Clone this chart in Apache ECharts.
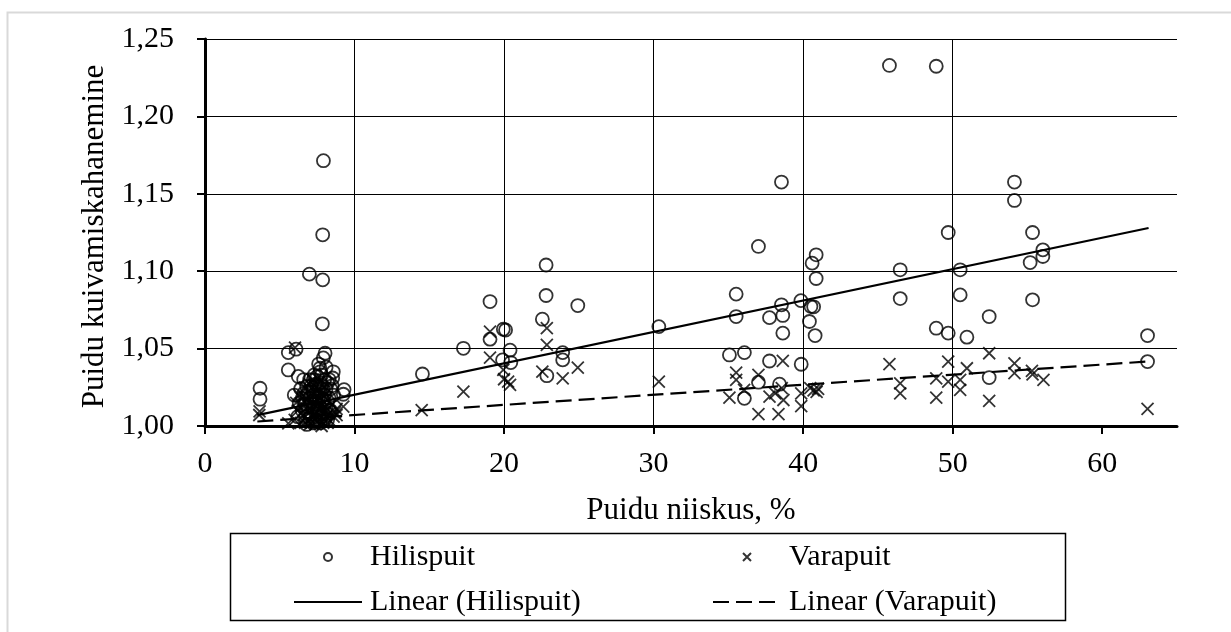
<!DOCTYPE html>
<html>
<head>
<meta charset="utf-8">
<script src="https://cdn.jsdelivr.net/npm/echarts@6/dist/echarts.min.js"></script>
<style>
html,body{margin:0;padding:0;background:#fff;}
#chart{width:1231px;height:632px;}
</style>
</head>
<body>
<div id="chart"></div>
<script>
// ---- Data (x = Puidu niiskus %, y = Puidu kuivamiskahanemine) ----
const hilispuit = [
  [3.68,1.0244],[3.68,1.0173],
  [5.57,1.0474],[6.09,1.0496],[5.57,1.0362],[6.24,1.032],[5.97,1.020],[6.6,1.021],[6.8,1.0254],
  [6.98,1.0981],[7.87,1.0944],[7.87,1.1235],[7.92,1.1714],[7.85,1.066],
  [8.03,1.047],[7.91,1.044],[8.58,1.035],[8.54,1.031],[7.69,1.0373],[7.8,1.033],[7.24,1.0298],
  [9.3,1.0235],[9.25,1.0205],
  [6.3,1.015],[6.5,1.010],[6.7,1.006],[6.9,1.012],[7.0,1.018],[7.1,1.008],[7.2,1.022],[7.3,1.014],
  [7.4,1.004],[7.5,1.026],[7.5,1.010],[7.6,1.019],[7.7,1.002],[7.7,1.028],[7.8,1.015],[7.9,1.008],
  [7.9,1.024],[8.0,1.020],[8.1,1.012],[8.2,1.028],[8.3,1.018],[8.4,1.024],[8.4,1.010],[8.6,1.020],
  [6.2,1.006],[6.4,1.024],[6.6,1.030],[7.0,1.030],[7.3,1.033],[7.6,1.040],[7.4,1.027],[8.1,1.038],
  [7.2,1.002],[6.8,1.001],[8.2,1.004],
  [6.5,1.018],[6.7,1.014],[6.9,1.022],[7.0,1.005],[7.1,1.026],[7.2,1.012],[7.3,1.020],[7.4,1.016],
  [7.5,1.003],[7.5,1.032],[7.6,1.011],[7.7,1.022],[7.7,1.035],[7.8,1.006],[7.8,1.026],[7.9,1.017],
  [8.0,1.030],[8.0,1.004],[8.1,1.024],[8.2,1.016],[8.3,1.010],[8.3,1.030],[8.5,1.026],[7.1,1.016],
  [14.54,1.0336],[17.28,1.0502],[19.06,1.0804],[19.06,1.0561],[19.95,1.0625],[20.1,1.062],[20.4,1.049],
  [19.9,1.0427],[20.45,1.041],[22.81,1.104],[22.81,1.0843],[22.56,1.069],[24.93,1.0778],[23.92,1.0474],
  [23.92,1.0427],[22.86,1.0325],[30.35,1.0642],
  [45.77,1.2329],[48.9,1.2324],[38.55,1.1576],[37.01,1.116],[49.7,1.125],[40.87,1.1106],[40.6,1.1052],
  [40.87,1.0953],[46.49,1.1009],[46.49,1.0823],[35.52,1.0852],[35.52,1.0707],[37.75,1.070],[38.55,1.0783],
  [38.64,1.0714],[38.64,1.06],[39.85,1.081],[40.52,1.0772],[40.7,1.077],[40.42,1.0675],[40.8,1.0584],
  [48.9,1.0632],[49.7,1.06],[35.07,1.0459],[36.07,1.0474],[37.75,1.042],[39.87,1.0399],[37.01,1.0283],
  [38.42,1.027],[36.07,1.0179],
  [54.13,1.1576],[54.13,1.1457],[55.34,1.125],[56.03,1.1138],[56.03,1.1095],[55.18,1.1056],[50.5,1.1009],
  [50.5,1.0847],[55.34,1.0815],[52.44,1.0707],[50.95,1.0574],[63.03,1.0584],[63.03,1.0416],[52.44,1.0313]
];
const varapuit = [
  [3.63,1.0071],[3.65,1.0095],[5.57,1.0017],[6.02,1.0506],
  [9.25,1.0125],[8.7,1.009],[8.8,1.007],[7.8,1.000],[8.8,1.011],
  [6.0,1.004],[6.2,1.010],[6.4,1.002],[6.5,1.014],[6.6,1.007],[6.8,1.018],[6.9,1.003],[7.0,1.011],
  [7.1,1.020],[7.2,1.006],[7.3,1.014],[7.4,1.001],[7.5,1.009],[7.5,1.017],[7.6,1.004],[7.7,1.012],
  [7.8,1.008],[7.9,1.002],[8.0,1.015],[8.1,1.006],[8.2,1.011],[8.4,1.003],[8.5,1.014],[6.3,1.020],
  [6.7,1.025],[7.0,1.027],[7.6,1.024],[7.2,1.030],
  [6.1,1.015],[6.4,1.008],[6.6,1.019],[6.7,1.002],[6.9,1.013],[7.0,1.001],[7.1,1.010],[7.2,1.017],
  [7.3,1.004],[7.4,1.021],[7.5,1.013],[7.6,1.007],[7.7,1.018],[7.8,1.003],[7.9,1.011],[8.0,1.008],
  [8.1,1.018],[8.2,1.002],[8.3,1.008],[8.6,1.006],[7.3,1.026],[7.9,1.022],
  [14.49,1.0103],[17.28,1.0222],[19.06,1.061],[19.06,1.0442],[19.95,1.0362],[20.0,1.0302],[20.4,1.0265],
  [20.27,1.0287],[22.86,1.0632],[22.86,1.0524],[22.56,1.0351],[23.92,1.0308],[24.93,1.0377],[30.35,1.0287],
  [35.52,1.0345],[35.52,1.0298],[35.07,1.0183],[37.01,1.033],[36.05,1.0233],[37.01,1.0076],[37.75,1.019],
  [38.35,1.0076],[38.64,1.042],[38.57,1.0244],[38.68,1.0168],[38.13,1.0211],[39.87,1.0129],[39.87,1.0211],
  [40.47,1.0244],[40.7,1.023],[40.9,1.022],[41.0,1.024],[45.77,1.0399],[46.49,1.0276],[46.49,1.0211],
  [48.9,1.0308],[48.9,1.0183],[49.7,1.0416],[49.7,1.0287],
  [52.44,1.047],[50.95,1.0373],[54.13,1.0405],[54.13,1.0341],[55.3,1.0356],[55.34,1.0334],[56.07,1.0298],
  [50.5,1.0298],[50.5,1.0233],[52.44,1.0162],[63.03,1.011]
];
// Linear trend lines (end points)
const trendHilispuit = [[3.5,1.0070],[63.1,1.1279]];
const trendVarapuit = [[3.5,1.0029],[63.1,1.0417]];
const xTicks = [0,10,20,30,40,50,60];
const seriesNames = ['Hilispuit','Varapuit','Linear (Hilispuit)','Linear (Varapuit)'];
const xTitle = 'Puidu niiskus, %';
const yTitle = 'Puidu kuivamiskahanemine';

const FONT = 'Liberation Serif';
const crossPath = 'path://M0,0L10,10M10,0L0,10';

const legendCommon = {
  orient:'vertical',top:542,padding:0,
  itemWidth:68,itemHeight:8,itemGap:15,
  textStyle:{fontFamily:FONT,fontSize:30,color:'#000',lineHeight:30,padding:[0,0,0,3]},
  selectedMode:false
};

const chart = echarts.init(document.getElementById('chart'), null, {renderer:'canvas'});
chart.setOption({
  animation:false,
  backgroundColor:'#fff',
  textStyle:{fontFamily:FONT,color:'#000'},
  grid:{left:205,right:54,top:39,bottom:206,containLabel:false},
  xAxis:{
    type:'value',min:0,max:65,interval:10,
    name:xTitle,nameLocation:'middle',nameGap:69,
    nameTextStyle:{fontFamily:FONT,fontSize:31,color:'#000'},
    axisLine:{show:true,onZero:false,lineStyle:{color:'#000',width:3}},
    axisTick:{show:true,inside:false,length:8,lineStyle:{color:'#000',width:2},customValues:xTicks},
    axisLabel:{fontFamily:FONT,fontSize:30,color:'#000',margin:23,customValues:xTicks},
    splitLine:{show:true,showMaxLine:false,lineStyle:{color:'#000',width:1}}
  },
  yAxis:{
    type:'value',min:1.0,max:1.25,interval:0.05,
    name:yTitle,nameLocation:'middle',nameGap:94,nameRotate:90,
    nameTextStyle:{fontFamily:FONT,fontSize:31,color:'#000',padding:[0,8,0,0]},
    axisLine:{show:true,onZero:false,lineStyle:{color:'#000',width:3}},
    axisTick:{show:true,inside:false,length:8,lineStyle:{color:'#000',width:2}},
    axisLabel:{fontFamily:FONT,fontSize:30,color:'#000',margin:31,
      formatter:v=>v.toFixed(2).replace('.',',')},
    splitLine:{show:true,lineStyle:{color:'#000',width:1}}
  },
  legend:[
    Object.assign({left:293,data:[seriesNames[0],seriesNames[2]]},legendCommon),
    Object.assign({left:712,data:[seriesNames[1],seriesNames[3]]},legendCommon)
  ],
  graphic:[
    {type:'rect',shape:{x:7.5,y:12.5,width:1260,height:660},style:{fill:'none',stroke:'#d9d9d9',lineWidth:2},silent:true,z:-1},
    {type:'rect',shape:{x:230.5,y:533.5,width:835,height:87},style:{fill:'none',stroke:'#000',lineWidth:1.5},silent:true}
  ],
  series:[
    {name:seriesNames[0],type:'scatter',data:hilispuit,symbol:'circle',symbolSize:13,
      itemStyle:{color:'rgba(0,0,0,0)',borderColor:'#000',borderWidth:1.8},z:3},
    {name:seriesNames[1],type:'scatter',data:varapuit,symbol:crossPath,symbolSize:12,
      itemStyle:{color:'rgba(0,0,0,0)',borderColor:'#000',borderWidth:1.8},z:3},
    {name:seriesNames[2],type:'line',data:trendHilispuit,symbol:'none',
      itemStyle:{color:'rgba(0,0,0,0)',borderColor:'rgba(0,0,0,0)'},
      lineStyle:{color:'#000',width:2.2,type:'solid'},z:4},
    {name:seriesNames[3],type:'line',data:trendVarapuit,symbol:'none',
      itemStyle:{color:'rgba(0,0,0,0)',borderColor:'rgba(0,0,0,0)'},
      lineStyle:{color:'#000',width:2.2,type:[16,7]},z:4}
  ]
});
</script>
</body>
</html>
